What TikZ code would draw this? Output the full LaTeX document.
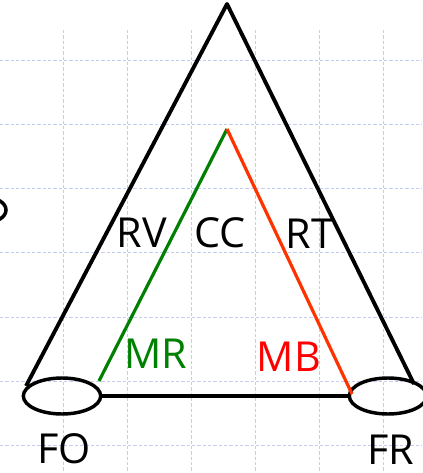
\documentclass[tikz,border=0pt]{standalone}
\usepackage{fontspec}
\setmainfont{Open Sans}
\usetikzlibrary{shapes.geometric}
\definecolor{gridc}{HTML}{C4CCF6}
\definecolor{lgreen}{HTML}{008000}
\definecolor{lred}{HTML}{FF3300}
\tikzset{
  gridline/.style={gridc, line width=0.75pt, dash pattern=on 2.5pt off 1.5pt},
  blk/.style={black, line width=2.9pt, line join=round},
  ell/.style={ellipse, draw=black, line width=2.6pt, inner sep=0pt, minimum width=58pt, minimum height=27pt},
  lbl/.style={font=\fontsize{31}{31}\selectfont, inner sep=0pt, anchor=center}
}
\begin{document}
\begin{tikzpicture}[x=0.75pt, y=-0.75pt]
\useasboundingbox (0,0) rectangle (422,473);
\fill[white] (0,0) rectangle (422,473);
% grid
\foreach \gx in {63,127,191,255,319,383} \draw[gridline] (\gx,30) -- (\gx,473);
\foreach \gy in {61,125,189,253,317,381,445} \draw[gridline] (0,\gy) -- (422,\gy);
% nodes
\node[ell] (FOe) at (62,396) {};
\node[ell] (FRe) at (388,396) {};
\node[ellipse, draw=black, line width=2.6pt, inner sep=0pt, minimum width=30pt, minimum height=19pt] (Xe) at (-14,210) {};
\coordinate (apex) at (227,4);
\coordinate (tl) at (26,386);
\coordinate (tr) at (414,384);
\coordinate (ic) at (227,129);
\coordinate (gl) at (99,381);
\coordinate (rr) at (352,394);
% triangle
\draw[blk] (tl) -- (apex) -- (tr);
\draw[blk] (FOe.east) -- (FRe.west);
\draw[lgreen, line width=2.4pt] (gl) -- (ic);
\draw[lred, line width=2.4pt] (ic) -- (rr);
% labels
\node[lbl] (RV) at (142,233) {RV};
\node[lbl] (CC) at (220,233) {CC};
\node[lbl] (RT) at (310,234) {RT};
\node[lbl, text=lgreen] (MR) at (156,354) {MR};
\node[lbl, text=red] (MB) at (289,357) {MB};
\node[lbl] (FO) at (64,449) {FO};
\node[lbl] (FR) at (391,450) {FR};
\end{tikzpicture}
\end{document}
